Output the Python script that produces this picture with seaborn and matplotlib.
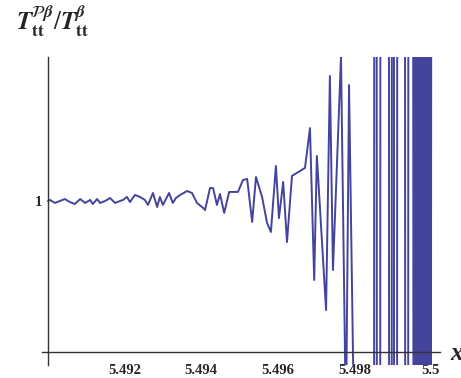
import pandas as pd
import matplotlib
matplotlib.use("Agg")
import matplotlib.pyplot as plt
import seaborn as sns

# Values (x, T_tt^{P beta} / T_tt^{beta})
x_vals = [
    5.49000, 5.49005, 5.49018, 5.49031, 5.49044, 5.49057, 5.49070, 5.49084,
    5.49097, 5.49110, 5.49117, 5.49128, 5.49136, 5.49149, 5.49162, 5.49175,
    5.49188, 5.49196, 5.49206, 5.49214, 5.49227, 5.49240, 5.49253, 5.49261,
    5.49274, 5.49285, 5.49292, 5.49300, 5.49316, 5.49326, 5.49334, 5.49345,
    5.49363, 5.49376, 5.49389, 5.49405, 5.49410, 5.49423, 5.49431, 5.49441,
    5.49449, 5.49460, 5.49473, 5.49496, 5.49509, 5.49520, 5.49533, 5.49543,
    5.49559, 5.49572, 5.49582, 5.49595, 5.49603, 5.49614, 5.49624, 5.49637,
    5.49671, 5.49684, 5.49695, 5.49702, 5.49726, 5.49736, 5.49744, 5.49765,
    5.49778, 5.49786, 5.49802, 5.49830,
]
ratio = [
    1.000, 1.007, 0.987, 1.000, 1.013, 0.993, 0.980, 1.013,
    0.987, 1.007, 0.980, 1.013, 0.987, 1.000, 1.020, 0.987,
    1.000, 1.007, 1.027, 0.993, 1.040, 1.027, 1.007, 0.974,
    1.053, 0.960, 1.027, 0.974, 1.053, 0.987, 1.020, 1.040,
    1.066, 1.053, 0.987, 0.954, 0.940, 1.086, 1.086, 0.974,
    1.046, 0.921, 1.060, 1.060, 1.139, 1.146, 0.861, 1.159,
    1.026, 0.854, 0.795, 1.232, 0.887, 1.126, 0.728, 1.166,
    1.219, 1.483, 0.477, 1.298, 0.278, 1.828, 0.543, 1.954,
    -0.5, 1.768, -1.0, -4.0,
]

# off-scale oscillations near x = 5.5
x_spikes = [
    5.49851, 5.49852, 5.49858, 5.49859, 5.49867, 5.49868, 5.49890, 5.49891,
    5.49897, 5.49898, 5.49903, 5.49904, 5.49911, 5.49912, 5.49932, 5.49933,
    5.49940, 5.49941,
    5.49953, 5.49955, 5.49957, 5.49959, 5.49961, 5.49963, 5.49965, 5.49967,
    5.49969, 5.49971, 5.49973, 5.49975, 5.49977, 5.49979, 5.49981, 5.49983,
    5.49985, 5.49987, 5.49989, 5.49991, 5.49993, 5.49995, 5.49997, 5.49999,
    5.50001,
]
ratio_spikes = [
    -4, 4, 4, -4, -4, 4, 4, -4,
    -4, 4, 4, -4, -4, 4, 4, -4,
    -4, 4,
    4, -4, 4, -4, 4, -4, 4, -4,
    4, -4, 4, -4, 4, -4, 4, -4,
    4, -4, 4, -4, 4, -4, 4, -4,
    4,
]

x_ticks = [5.492, 5.494, 5.496, 5.498, 5.5]
x_ticklabels = ["5.492", "5.494", "5.496", "5.498", "5.5"]
y_ticks = [1]
y_ticklabels = ["1"]

df = pd.DataFrame({"x": x_vals + x_spikes, "ratio": ratio + ratio_spikes})

sns.set_style("white")
plt.rcParams["mathtext.fontset"] = "stix"
plt.rcParams["font.family"] = ["Liberation Serif", "DejaVu Serif"]

fig = plt.figure(figsize=(4.61, 3.78), dpi=100)
ax = fig.add_axes([42 / 461, 13 / 378, 398 / 461, 308 / 378])

sns.lineplot(data=df, x="x", y="ratio", sort=False, estimator=None,
             color="#44449c", lw=1.4, ax=ax)

ax.set_xlim(5.489843, 5.500235)
ax.set_ylim(-0.0861, 1.9536)

for s in ["top", "right"]:
    ax.spines[s].set_visible(False)
ax.spines["bottom"].set_position(("data", 0))
ax.spines["left"].set_position(("data", 5.49))
for s in ["bottom", "left"]:
    ax.spines[s].set_color("#333333")
    ax.spines[s].set_linewidth(1.0)

ax.set_xticks(x_ticks)
ax.set_xticklabels(x_ticklabels, fontweight="bold", fontsize=10.5)
ax.set_yticks(y_ticks)
ax.set_yticklabels(y_ticklabels, fontweight="bold", fontsize=10.5)
ax.tick_params(axis="x", direction="in", length=4, width=0.8, color="#666666", pad=9)
ax.tick_params(axis="y", direction="in", length=4, width=0.8, color="#333333", pad=4)
ax.set_xlabel("")
ax.set_ylabel("")

fig.text(16 / 461, 1 - 30 / 378,
         r"$\mathbfit{T}_{\mathbf{tt}}^{\mathcal{P}\mathbfit{\beta}}/\mathbfit{T}_{\mathbf{tt}}^{\mathbfit{\beta}}$",
         fontsize=18, va="baseline", ha="left")
fig.text(450 / 461, 1 - 360 / 378, "x", fontsize=18, fontweight="bold",
         fontstyle="italic", va="baseline", ha="left")

fig.savefig("out.png", dpi=100)
